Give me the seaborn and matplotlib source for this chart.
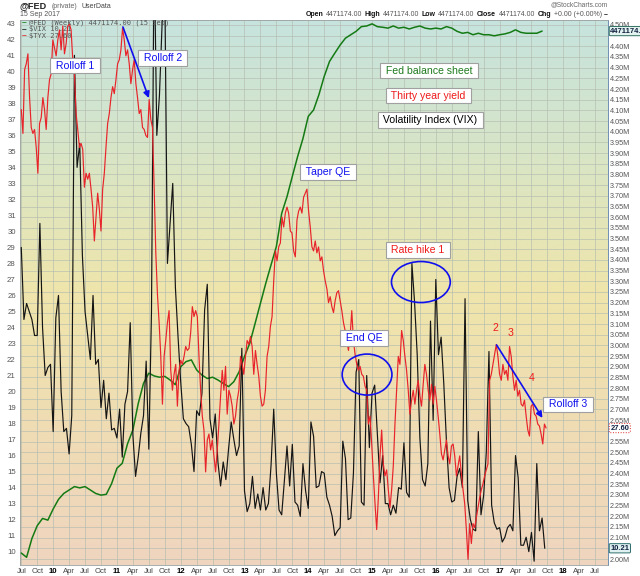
import numpy as np
import matplotlib
matplotlib.use("Agg")
import matplotlib.pyplot as plt
import matplotlib.transforms as mtransforms
from matplotlib.patches import Ellipse
from matplotlib.colors import LinearSegmentedColormap
import seaborn as sns

# ---------------- data ----------------
# Fed balance sheet (millions), monthly from Jul 2009
fed_start, fed_step = 2009.5, 1 / 12
fed_values = [
    2.028, 2.008, 2.096, 2.156, 2.190, 2.182, 2.234, 2.279, 2.307, 2.323,
    2.339, 2.333, 2.339, 2.323, 2.307, 2.299, 2.303, 2.353, 2.425, 2.448,
    2.540, 2.604, 2.727, 2.822, 2.870, 2.857, 2.851, 2.855, 2.838, 2.816,
    2.900, 2.924, 2.932, 2.885, 2.861, 2.845, 2.851, 2.838, 2.822, 2.807,
    2.830, 2.877, 2.948, 3.010, 3.103, 3.197, 3.290, 3.377, 3.463, 3.618,
    3.696, 3.791, 3.884, 3.968, 4.072, 4.102, 4.173, 4.259, 4.329, 4.368,
    4.406, 4.438, 4.454, 4.470, 4.492, 4.495, 4.505, 4.492, 4.489, 4.485,
    4.495, 4.485, 4.489, 4.481, 4.489, 4.495, 4.485, 4.481, 4.485, 4.481,
    4.492, 4.485, 4.470, 4.461, 4.465, 4.454, 4.461, 4.454, 4.454, 4.449,
    4.454, 4.458, 4.465, 4.477, 4.465, 4.461, 4.461, 4.461, 4.471174,
]

# VIX, twice a month from Jul 2009
vix_start, vix_step = 2009.5, 1 / 24
vix_values = [
    29.0, 24.5, 25.5, 25.0, 24.5, 23.5, 23.5, 30.5, 24.0, 21.0, 21.5, 21.7,
    17.5, 24.6, 26.0, 20.0, 17.5, 17.7, 16.1, 18.5, 41.0, 34.0, 35.5, 28.5,
    25.0, 23.5, 22.0, 26.0, 21.7, 22.0, 19.0, 20.7, 18.3, 19.9, 17.6, 17.7,
    17.1, 18.9, 15.9, 19.2, 20.0, 24.3, 17.3, 14.7, 15.9, 17.4, 18.5, 21.9,
    16.4, 25.0, 48.0, 36.0, 38.5, 43.0, 45.5, 28.0, 30.5, 33.0, 26.5, 23.4,
    20.6, 18.3, 18.0, 17.8, 16.7, 15.0, 18.8, 18.5, 19.9, 25.1, 26.7, 18.3,
    17.1, 18.6, 15.6, 14.1, 15.6, 14.5, 16.4, 18.1, 17.0, 16.0, 16.6, 22.7,
    13.8, 12.5, 13.0, 14.7, 12.7, 13.6, 12.6, 14.0, 12.6, 13.0, 15.4, 18.9,
    14.9, 12.6, 12.3, 14.4, 16.6, 14.1, 16.7, 13.1, 12.9, 12.2, 15.5, 13.8,
    12.7, 18.1, 17.2, 14.0, 14.1, 15.0, 14.9, 13.4, 12.9, 12.2, 11.0, 11.3,
    11.5, 16.9, 15.8, 12.0, 12.1, 14.9, 21.2, 22.0, 13.1, 12.9, 21.0, 16.5,
    19.9, 20.4, 17.3, 14.3, 16.0, 13.0, 13.0, 12.3, 12.9, 12.4, 14.0, 13.9,
    16.8, 13.7, 13.4, 28.0, 25.6, 22.3, 17.1, 14.5, 14.1, 15.5, 24.4, 18.2,
    27.0, 22.3, 23.4, 20.5, 16.9, 14.0, 13.1, 13.2, 14.7, 15.2, 14.0, 25.8,
    13.2, 12.0, 11.4, 11.3, 17.5, 12.3, 13.5, 16.2, 22.5, 12.9, 11.8, 11.4,
    11.5, 10.6, 10.9, 11.5, 11.7, 11.3, 16.0, 14.6, 10.4, 10.4, 10.9, 10.0,
    11.2, 9.4, 15.5, 11.3, 12.1, 10.21,
]

# 30-year yield (x10), about every 9.5 days from Jul 2009
tyx_start, tyx_step = 2009.5, 5 / 192
tyx_values = [
    43.6, 42.4, 45.6, 45.9, 46.4, 44.2, 42.7, 42.4, 42.6, 41.7,
    40.4, 42.9, 43.2, 44.2, 43.6, 42.6, 44.2, 45.1, 45.4, 47.1,
    46.7, 46.3, 47.1, 47.6, 46.6, 47.8, 46.4, 46.9, 47.8, 47.9,
    47.6, 46.1, 45.4, 43.4, 42.6, 41.7, 41.9, 41.6, 39.7, 40.4,
    40.1, 40.4, 39.6, 38.7, 37.0, 38.2, 39.4, 38.6, 37.5, 39.6,
    40.4, 41.7, 42.9, 43.4, 44.2, 44.75, 44.4, 45.1, 45.9, 46.1,
    46.6, 47.7, 47.1, 46.3, 46.6, 45.9, 44.9, 45.6, 46.1, 44.9,
    44.2, 43.4, 43.6, 42.7, 42.6, 42.3, 42.2, 44.1, 43.1, 42.7,
    39.7, 36.4, 34.3, 32.9, 31.2, 28.8, 31.2, 32.0, 32.9, 33.5,
    30.5, 29.5, 30.3, 30.8, 28.7, 30.5, 31.0, 30.8, 31.2, 31.7,
    31.5, 31.6, 32.4, 33.7, 33.2, 33.5, 33.2, 31.2, 29.5, 28.2,
    27.5, 25.4, 27.0, 27.3, 26.5, 27.0, 26.2, 25.4, 26.5, 27.8,
    29.2, 30.5, 29.5, 30.7, 28.3, 29.5, 29.2, 28.7, 27.8, 28.2,
    29.0, 29.5, 31.2, 30.8, 30.3, 31.2, 32.0, 31.8, 32.2, 31.7,
    30.3, 31.5, 30.8, 30.2, 29.2, 28.7, 28.8, 29.5, 31.2, 31.7,
    32.7, 33.2, 35.0, 36.5, 36.0, 36.7, 36.9, 38.2, 37.7, 38.4,
    38.7, 38.4, 37.5, 37.4, 36.5, 36.2, 38.05, 38.5, 38.7, 38.4,
    39.2, 39.4, 39.6, 38.5, 37.7, 36.7, 36.5,
    37.0, 36.4, 36.7, 36.0, 36.2, 35.5, 35.0, 34.6, 33.9, 34.2,
    33.7, 33.4, 34.0, 34.4, 34.5, 34.0, 33.5, 32.9, 32.5, 32.0,
    31.5, 32.2, 33.5, 32.0, 31.3, 30.8, 30.5, 30.7, 30.3, 30.2,
    29.7, 29.5, 27.8, 28.2, 26.8, 25.2, 23.8, 22.5, 24.1, 26.2,
    27.5, 25.8, 25.2, 25.5, 24.5, 23.6, 24.5, 25.7, 27.8, 29.5,
    31.2, 30.8, 32.5, 32.0, 31.2, 30.5, 29.5, 28.3, 29.0, 29.5,
    28.8, 29.5, 30.0, 29.2, 28.7, 29.8, 30.8, 30.3, 29.5, 29.0,
    29.8, 28.8, 29.7, 29.0, 28.2, 27.3, 26.3, 26.0, 26.5, 27.0,
    26.2, 25.8, 26.7, 26.8, 26.2, 25.2, 25.7, 26.2, 25.3, 24.5,
    23.8, 22.5, 21.0, 22.8, 21.8, 22.8, 22.6, 23.1, 23.6, 24.1,
    24.5, 24.8, 25.2, 25.5, 25.8, 30.0, 30.3, 30.8, 31.3, 31.8,
    31.2, 30.3, 30.0, 30.8, 30.3, 30.5, 30.0, 31.7, 31.2, 30.2,
    29.5, 30.0, 29.2, 29.5, 28.8, 28.7, 29.0, 28.2, 27.5, 27.2,
    28.7, 28.8, 28.3, 28.2, 27.8, 27.7, 27.3, 26.8, 27.8, 27.60,
]

tick_start, tick_step = 2009.5, 0.25
tick_labels = ["Jul", "Oct", "10", "Apr", "Jul", "Oct", "11", "Apr", "Jul", "Oct",
               "12", "Apr", "Jul", "Oct", "13", "Apr", "Jul", "Oct", "14", "Apr",
               "Jul", "Oct", "15", "Apr", "Jul", "Oct", "16", "Apr", "Jul", "Oct",
               "17", "Apr", "Jul", "Oct", "18", "Apr", "Jul"]
vix_ticks = list(range(10, 44))
fed_ticks = [round(2.0 + 0.05 * i, 2) for i in range(51)]

fed_x = fed_start + fed_step * np.arange(len(fed_values))
vix_x = vix_start + vix_step * np.arange(len(vix_values))
tyx_x = tyx_start + tyx_step * np.arange(len(tyx_values))
tick_pos = tick_start + tick_step * np.arange(len(tick_labels))

# ---------------- style ----------------
sns.set_style("white")
plt.rcParams["font.family"] = ["Liberation Sans", "DejaVu Sans"]

W, H = 640, 576
fig = plt.figure(figsize=(W / 100, H / 100), dpi=100)
fig.patch.set_facecolor("white")
L, R, T, B = 20, 608, 20, 565
ax_fed = fig.add_axes([L / W, 1 - B / H, (R - L) / W, (B - T) / H])
ax_vix = ax_fed.twinx()
ax_tyx = ax_fed.twinx()
ax_fed.yaxis.tick_right()
ax_vix.yaxis.tick_left()
ax_tyx.yaxis.set_visible(False)

XLIM = (2009.48, 2018.70)
FED_LIM = (1.972, 4.523)
VIX_LIM = (9.165, 43.206)
TYX_LIM = (20.72, 48.1)

# background gradient
cmap = LinearSegmentedColormap.from_list(
    "bg", [(0.0, "#c6e3de"), (0.22, "#d6e5c9"), (0.5, "#efe5ab"),
           (0.75, "#efdcb4"), (1.0, "#efd5bf")])
grad = np.linspace(0, 1, 256).reshape(-1, 1)
ax_fed.imshow(grad, cmap=cmap, extent=[0, 1, 0, 1], transform=ax_fed.transAxes,
              aspect="auto", origin="upper", zorder=0)

# lines
sns.lineplot(x=fed_x, y=fed_values, ax=ax_fed, color="#147a14", linewidth=1.1, zorder=3)
sns.lineplot(x=vix_x, y=vix_values, ax=ax_vix, color="#151515", linewidth=0.85)
sns.lineplot(x=tyx_x, y=tyx_values, ax=ax_tyx, color="#e8232a", linewidth=0.85)

for a in (ax_fed, ax_vix, ax_tyx):
    a.set_xlim(*XLIM)
    a.set_xlabel("")
    a.set_ylabel("")
ax_fed.set_ylim(*FED_LIM)
ax_vix.set_ylim(*VIX_LIM)
ax_tyx.set_ylim(*TYX_LIM)

# value tags on the right edge (they cover the tick label beneath them)
tags = [(ax_fed, fed_values[-1], f"{fed_values[-1] * 1e6:.1f}", "#2e6e5e", "#e2f2ef", "-"),
        (ax_tyx, tyx_values[-1], f"{tyx_values[-1]:.2f}", "#dd2222", "white", ":"),
        (ax_vix, vix_values[-1], f"{vix_values[-1]:.2f}", "#2e6e6e", "#dff0f0", "-")]

# pixel rows of the tags, to skip right-axis labels hidden under them
def row_of(ax, v):
    return ax.transData.transform((XLIM[0], v))[1]

tag_rows = [row_of(a, v) for a, v, *_ in tags]

# grid + ticks
ax_fed.set_axisbelow(True)
ax_fed.set_yticks(fed_ticks)
ax_fed.set_yticklabels(["" if min(abs(row_of(ax_fed, v) - r) for r in tag_rows) < 6
                        else f"{v:.2f}M" for v in fed_ticks])
ax_fed.set_xticks(tick_pos)
ax_fed.set_xticklabels(tick_labels)
ax_fed.grid(True, color="#b4bcb0", linewidth=0.5, alpha=0.9)
ax_fed.tick_params(axis="y", labelsize=5.2, colors="#555555", length=0, pad=1.5)
ax_fed.tick_params(axis="x", labelsize=5.6, colors="#444444", length=0, pad=2.5)
for lab in ax_fed.get_xticklabels():
    if lab.get_text().isdigit():
        lab.set_fontweight("bold")
        lab.set_color("black")
ax_vix.set_yticks(vix_ticks)
ax_vix.set_yticklabels([str(v) for v in vix_ticks])
ax_vix.tick_params(axis="y", labelsize=5.6, colors="#555555", length=0, pad=3)

for a in (ax_vix, ax_tyx):
    for s in a.spines.values():
        s.set_visible(False)
for name in ("left", "top", "bottom"):
    ax_fed.spines[name].set_color("#9aa0a0")
    ax_fed.spines[name].set_linewidth(0.6)
ax_fed.spines["right"].set_color("#6d8fb0")
ax_fed.spines["right"].set_linestyle((0, (1, 1)))
ax_fed.spines["right"].set_linewidth(0.7)

for ax, val, txt, ec, fc, ls in tags:
    tr = mtransforms.blended_transform_factory(ax.transAxes, ax.transData)
    ax.text(1.004, val, txt, transform=tr, ha="left", va="center", fontsize=5.4,
            fontweight="bold", color="#102040", clip_on=False, zorder=20,
            bbox=dict(boxstyle="round,pad=0.15", fc=fc, ec=ec, lw=0.7, ls=ls))

# annotations (drawn on top axes, positioned in VIX data coords)
tv = ax_vix.transData
BLUE, GREEN, RED = "#1010ee", "#1e7a1e", "#ee1a1a"

def box(x, y, s, color):
    ax_tyx.text(x, y, f" {s} ", transform=tv, ha="center", va="center",
                fontsize=7.6, color=color, zorder=12,
                bbox=dict(boxstyle="square,pad=0.25", fc="white", ec="#a0a0a0", lw=0.8))

box(2010.344, 40.36, "Rolloff 1", BLUE)
box(2011.719, 40.83, "Rolloff 2", BLUE)
box(2014.3125, 33.71, "Taper QE", BLUE)
box(2015.898, 40.05, "Fed balance sheet", GREEN)
box(2015.883, 38.49, "Thirty year yield", RED)
box(2015.914, 36.96, "Volatility Index (VIX)", "black")
box(2015.719, 28.84, "Rate hike 1", RED)
box(2014.875, 23.34, "End QE", BLUE)
box(2018.07, 19.19, "Rolloff 3", BLUE)

for x, y, s in [(2016.9375, 23.97, "2"), (2017.172, 23.66, "3"), (2017.5, 20.85, "4")]:
    ax_tyx.text(x, y, s, transform=tv, ha="center", va="center", fontsize=7.6,
                color=RED, zorder=12)

for cx, cy, w, h in [(2015.766, 26.84, 0.922, 2.56), (2014.922, 21.06, 0.78, 2.56)]:
    ax_tyx.add_artist(Ellipse((cx, cy), w, h, transform=tv, fill=False,
                              ec=BLUE, lw=1.2, zorder=11))

for (x0, y0), (x1, y1) in [((2011.094, 42.77), (2011.5, 38.33)),
                           ((2016.953, 22.91), (2017.672, 18.35))]:
    ax_tyx.annotate("", xy=(x1, y1), xytext=(x0, y0), xycoords=tv, textcoords=tv,
                    arrowprops=dict(arrowstyle="-|>", color=BLUE, lw=1.2,
                                    mutation_scale=9, shrinkA=0, shrinkB=0),
                    zorder=11)

# header, laid out piece by piece with measured widths
renderer = fig.canvas.get_renderer()

def chain(px, py, pieces, gap=3.0, align="left"):
    made = []
    for s, kw in pieces:
        t = fig.text(0, 1 - py / H, s, va="center", ha="left", **kw)
        made.append((t, t.get_window_extent(renderer).width))
    total = sum(w for _, w in made) + gap * (len(made) - 1)
    x = px - total if align == "right" else px
    for t, w in made:
        t.set_x(x / W)
        x += w + gap

chain(20, 6, [("@FED", dict(fontsize=6.6, fontweight="bold", color="#222222")),
              ("(private)", dict(fontsize=5.0, color="#666666")),
              ("UserData", dict(fontsize=5.0, color="#444444"))], gap=4)
fig.text(20 / W, 1 - 14.5 / H, "15 Sep 2017", va="center", fontsize=5.0, color="#555555")
fig.text(608 / W, 1 - 5 / H, "@StockCharts.com", va="center", ha="right",
         fontsize=4.8, color="#666666")

bold_kw = dict(fontsize=5.0, fontweight="bold", color="#111111")
val_kw = dict(fontsize=5.0, color="#555555")
chain(608, 14.5, [("Open", bold_kw), ("4471174.00", val_kw),
                  ("High", bold_kw), ("4471174.00", val_kw),
                  ("Low", bold_kw), ("4471174.00", val_kw),
                  ("Close", bold_kw), ("4471174.00", val_kw),
                  ("Chg", bold_kw), ("+0.00 (+0.00%)", val_kw),
                  ("–", bold_kw)], gap=2.5, align="right")

# inline legend
for py, col, lab in [(23, "#147a14", f"@FED (Weekly) {fed_values[-1] * 1e6:.2f} (15 Sep)"),
                     (29.5, "#151515", f"$VIX {vix_values[-1]:.2f}"),
                     (36, "#e8232a", f"$TYX {tyx_values[-1]:.2f}")]:
    fig.text(22 / W, 1 - py / H, "–", va="center", fontsize=6, fontweight="bold", color=col)
    fig.text(29 / W, 1 - py / H, lab, va="center", fontsize=5.0, color="#555555",
             family="DejaVu Sans Mono")

fig.savefig("out.png", dpi=100)
